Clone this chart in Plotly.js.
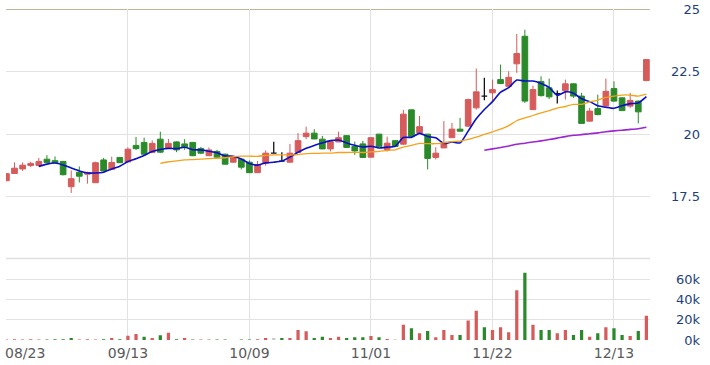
<!DOCTYPE html>
<html><head><meta charset="utf-8">
<script src="https://cdn.plot.ly/plotly-3.0.1.min.js"></script>
<style>html,body{margin:0;padding:0;background:#fff;} #chart{width:710px;height:365px;}</style>
</head><body><div id="chart"></div>
<script>
const tickIndex = [0, 15, 30, 45, 60, 75];
const tickLabels = ['08/23', '09/13', '10/09', '11/01', '11/22', '12/13'];
const priceTicks = [17.5, 20, 22.5, 25];
const priceTickLabels = ['17.5', '20', '22.5', '25'];
const volTicks = [0, 20000, 40000, 60000];
const volTickLabels = ['0k', '20k', '40k', '60k'];

const open = [18.14,18.43,18.61,18.75,18.75,19.0,18.94,18.91,17.9,18.48,
18.4,18.06,18.97,18.59,19.07,18.89,19.55,19.67,19.27,19.8,
19.43,19.69,19.61,19.67,19.43,19.14,19.31,19.2,18.88,19.0,
18.88,18.46,18.84,19.24,18.92,18.88,19.27,19.9,20.04,19.8,
19.41,19.69,19.94,19.51,19.61,19.08,20.0,19.37,19.74,19.6,
20.97,20.06,20.0,19.07,19.45,19.86,20.2,20.32,21.05,21.52,
21.65,22.18,21.91,22.81,23.91,20.98,22.1,21.85,21.62,21.74,
22.01,21.52,20.52,21.02,21.12,21.82,21.45,21.12,21.32,22.14];
const high = [18.45,18.87,18.87,18.9,19.05,19.16,19.11,18.93,18.55,18.71,
18.5,18.9,19.05,19.1,19.08,19.47,19.89,19.86,19.75,20.1,
19.81,19.71,19.8,19.69,19.49,19.47,19.37,19.22,19.12,19.02,
18.95,18.93,19.35,19.7,19.28,19.61,20.04,20.3,20.2,19.93,
19.72,20.1,19.96,19.7,19.73,19.88,20.01,19.9,19.76,20.97,
20.98,20.73,20.01,19.48,20.52,20.45,20.65,21.42,22.62,22.25,
22.18,22.78,22.51,24.0,24.17,21.94,22.31,22.22,21.74,22.18,
22.02,21.65,21.05,21.58,22.22,22.11,21.47,21.65,21.34,22.99];
const low = [18.12,18.42,18.53,18.68,18.71,18.86,18.84,18.35,17.65,18.07,
18.02,18.05,18.52,18.57,18.85,18.88,19.37,19.16,19.25,19.24,
19.42,19.28,19.37,19.12,19.2,19.12,19.06,18.78,18.86,18.59,
18.45,18.45,18.74,19.24,18.92,18.87,19.26,19.8,19.8,19.4,
19.31,19.68,19.46,19.17,19.06,19.07,19.5,19.3,19.5,19.58,
19.88,20.04,18.59,18.99,19.45,19.86,20.1,20.3,20.98,21.35,
21.32,22.0,21.9,22.45,21.25,20.97,21.5,21.4,21.22,21.38,
21.45,20.43,20.5,20.76,21.1,21.3,20.93,21.05,20.43,22.12];
const close = [18.42,18.64,18.76,18.83,18.91,18.87,18.86,18.38,18.22,18.32,
18.47,18.86,18.53,18.87,18.86,19.40,19.42,19.2,19.63,19.28,
19.63,19.37,19.47,19.14,19.24,19.37,19.08,18.8,19.1,18.68,
18.46,18.78,19.24,19.24,18.92,19.24,19.74,20.04,19.81,19.41,
19.7,19.86,19.47,19.33,19.07,19.86,19.51,19.64,19.51,20.8,
19.9,20.3,19.03,19.24,19.67,20.2,20.12,21.38,21.69,21.52,
21.78,22.02,22.27,23.22,21.32,21.78,21.54,21.49,21.62,22.01,
21.52,20.43,20.92,20.78,21.71,21.32,20.94,21.35,20.89,22.98];
const volume = [600,700,600,700,500,600,700,700,2000,600,
700,600,700,2000,800,4300,6000,3300,2000,4700,
7300,700,2000,600,600,600,500,600,0,500,
600,700,2000,2000,2000,2000,10000,8700,2000,3300,
2000,3300,2000,2700,2700,4000,2700,1000,200,15000,
11700,6700,9000,2700,10000,5000,5000,19300,29000,12700,
10000,12700,7700,49300,66700,15000,10000,10000,6700,10000,
5000,10000,3300,6700,12700,11700,5000,4000,9000,24000];
const maPeriods = [5, 20, 60];

const RED = '#d65b5b', GREEN = '#2a8a2a', DOJI = '#111111', FLAT = '#c9c9c9';
const maColors = ['#0a10c8', '#f3a21c', '#9b27cf'];
const maWidths = [1.6, 1.3, 1.6];

const xs = close.map((_, i) => i);
const pick = (arr, idx) => idx.map(i => arr[i]);
const normalIdx = xs.filter(i => open[i] !== close[i]);
const dojiIdx = xs.filter(i => open[i] === close[i]);

function movingAverage(arr, n) {
  return arr.map((_, i) => i < n - 1 ? null : arr.slice(i - n + 1, i + 1).reduce((a, b) => a + b, 0) / n);
}
const volColors = close.map((c, i) => i === 0 || c > close[i - 1] ? RED : (c < close[i - 1] ? GREEN : FLAT));

const traces = [
  {type: 'bar', x: xs, y: volume, xaxis: 'x', yaxis: 'y2', width: 0.4,
   marker: {color: volColors, line: {width: 0}}, hoverinfo: 'skip'},
  {type: 'candlestick', x: pick(xs, normalIdx), open: pick(open, normalIdx), high: pick(high, normalIdx),
   low: pick(low, normalIdx), close: pick(close, normalIdx), xaxis: 'x', yaxis: 'y', whiskerwidth: 0,
   increasing: {line: {color: RED, width: 1}, fillcolor: RED},
   decreasing: {line: {color: GREEN, width: 1}, fillcolor: GREEN}, hoverinfo: 'skip'},
  {type: 'candlestick', x: pick(xs, dojiIdx), open: pick(open, dojiIdx), high: pick(high, dojiIdx),
   low: pick(low, dojiIdx), close: pick(close, dojiIdx), xaxis: 'x', yaxis: 'y', whiskerwidth: 0,
   increasing: {line: {color: DOJI, width: 1.3}, fillcolor: DOJI},
   decreasing: {line: {color: DOJI, width: 1.3}, fillcolor: DOJI}, hoverinfo: 'skip'}
];
maPeriods.forEach((n, k) => {
  traces.push({type: 'scatter', mode: 'lines', x: xs, y: movingAverage(close, n), xaxis: 'x', yaxis: 'y',
    line: {color: maColors[k], width: maWidths[k], shape: 'spline', smoothing: 0.6}, hoverinfo: 'skip'});
});

const splitFrac = 0.2438;
const layout = {
  width: 710, height: 365,
  margin: {l: 6, r: 10, t: 9, b: 25, pad: 0},
  paper_bgcolor: '#ffffff', plot_bgcolor: '#ffffff',
  showlegend: false, hovermode: false,
  font: {family: 'DejaVu Sans, Verdana, sans-serif'},
  boxgap: 0.3, boxgroupgap: 0,
  xaxis: {domain: [0, 0.928], range: [-0.05, 79.45], anchor: 'y2',
    tickmode: 'array', tickvals: tickIndex, ticktext: tickLabels.map((t, i) => i === 0 ? '' : t),
    showgrid: true, gridcolor: '#e2e2e2', gridwidth: 1, zeroline: false, showline: false, ticks: '',
    tickfont: {size: 14, color: '#5a5a5a'}, ticklabelstandoff: 3,
    rangeslider: {visible: false}, fixedrange: true},
  yaxis: {domain: [splitFrac, 1], range: [15, 25], anchor: 'free', position: 1, side: 'left',
    tickmode: 'array', tickvals: priceTicks, ticktext: priceTickLabels,
    showgrid: true, gridcolor: '#e2e2e2', zeroline: false, showline: false, ticks: '',
    tickfont: {size: 13, color: '#1d3f78'}, fixedrange: true},
  yaxis2: {domain: [0, splitFrac], range: [0, 80000], anchor: 'free', position: 1, side: 'left',
    tickmode: 'array', tickvals: volTicks, ticktext: volTickLabels,
    showgrid: true, gridcolor: '#e2e2e2', zeroline: false, showline: false, ticks: '',
    tickfont: {size: 13, color: '#1d3f78'}, fixedrange: true},
  shapes: [
    {type: 'line', xref: 'x domain', x0: 0, x1: 1, yref: 'y', y0: 15, y1: 15, layer: 'below',
     line: {color: '#e0e0e0', width: 3}},
    {type: 'line', xref: 'x domain', x0: 0, x1: 1, yref: 'y', y0: 25, y1: 25, layer: 'below',
     line: {color: '#b09b78', width: 1.5}}
  ],
  annotations: [
    {xref: 'paper', yref: 'paper', x: 0, y: 0, xanchor: 'left', yanchor: 'top', showarrow: false,
     text: tickLabels[0], xshift: -3, yshift: -3, font: {size: 14, color: '#5a5a5a'}}
  ]
};

Plotly.newPlot('chart', traces, layout, {staticPlot: true, displayModeBar: false});
</script></body></html>
